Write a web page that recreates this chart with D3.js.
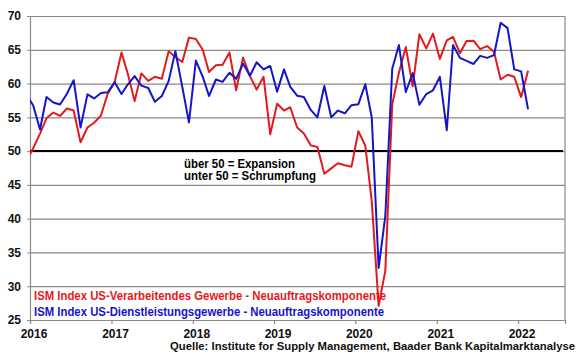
<!DOCTYPE html>
<html><head><meta charset="utf-8">
<script src="https://cdn.jsdelivr.net/npm/d3@7"></script>
<style>
body{margin:0;background:#fff}
svg{display:block}
text{font-family:"Liberation Sans",Arial,sans-serif;font-weight:bold}
</style>
</head><body>
<svg id="chart" width="580" height="359"></svg>
<script>
// first data month (Dec 2015, partly clipped at the left edge), monthly values
const firstMonth = "2015-12-15";
const manufacturing = [
 48.5,
 50.4,52.6,54.85,55.7,55.2,56.3,56.0,51.3,53.5,54.2,55.3,58.5,
 60.2,64.6,61.5,57.4,61.5,60.4,61.0,60.7,64.8,63.9,63.2,66.8,
 66.6,65.0,61.7,62.7,62.8,64.6,59.0,63.85,61.1,59.1,61.0,52.5,
 57.0,56.0,56.5,53.5,52.6,50.85,50.6,46.65,47.45,48.2,47.9,47.7,
 52.95,50.8,42.6,27.1,32.3,56.9,61.6,65.4,59.6,67.3,65.2,67.4,
 63.65,66.4,66.9,64.5,66.3,66.35,65.1,65.55,64.7,60.6,61.3,61.0,
 58.0,61.9
];
const services = [
 58.4,
 56.8,53.2,58.0,57.2,56.9,58.5,60.5,53.5,58.4,57.8,58.6,58.7,
 60.2,58.45,59.85,61.1,59.7,59.35,57.3,58.15,60.4,64.8,59.5,54.25,
 63.4,61.0,58.15,60.6,60.25,61.6,60.7,62.95,61.15,63.15,62.1,62.6,
 58.8,62.1,59.5,58.2,58.0,56.1,55.0,59.65,55.0,56.0,55.6,56.8,
 56.95,59.9,55.0,32.7,40.4,62.2,65.7,58.75,61.55,56.85,58.45,59.0,
 61.0,53.1,65.7,63.8,63.35,62.9,64.1,63.8,64.2,69.0,68.2,62.1,
 61.8,56.2
];
const yTicks = [25,30,35,40,45,50,55,60,65,70];
const xYears = [2016,2017,2018,2019,2020,2021,2022];
const seriesNames = [
 "ISM Index US-Verarbeitendes Gewerbe - Neuauftragskomponente",
 "ISM Index US-Dienstleistungsgewerbe - Neuauftragskomponente"
];
const noteLines = ["über 50 = Expansion","unter 50 = Schrumpfung"];
const sourceText = "Quelle: Institute for Supply Management, Baader Bank Kapitalmarktanalyse";

const RED = "#e31a1c", BLUE = "#1515c8", GRID = "#8a8a8a";
const L = 30, R = 565, T = 16, B = 320;

const svg = d3.select("#chart");
const x = d3.scaleTime().domain([new Date(2016,0,1), new Date(2022,6,31)]).range([L,R]);
const y = d3.scaleLinear().domain([25,70]).range([B,T]);

const start = new Date(firstMonth + "T00:00:00");
const dates = manufacturing.map((_,i)=> new Date(start.getFullYear(), start.getMonth()+i, 15));

// gridlines
const grid = svg.append("g").attr("transform",`translate(${L},0)`)
  .call(d3.axisLeft(y).tickValues(yTicks).tickSize(-(R-L)).tickFormat(""));
grid.select(".domain").remove();
grid.selectAll("line").attr("stroke",GRID).attr("stroke-width",1.2);

// right border
svg.append("line").attr("x1",R).attr("x2",R).attr("y1",T).attr("y2",B)
  .attr("stroke",GRID).attr("stroke-width",1.2);

// y axis
const ya = svg.append("g").attr("transform",`translate(${L},0)`)
  .call(d3.axisLeft(y).tickValues(yTicks).tickSize(3).tickPadding(6));
ya.select(".domain").attr("stroke",GRID).attr("stroke-width",1.2);
ya.selectAll("line").attr("stroke",GRID);
ya.selectAll("text").attr("font-size","12px").attr("fill","#111");

// x axis
const xa = svg.append("g").attr("transform",`translate(0,${B})`)
  .call(d3.axisBottom(x).tickValues(xYears.map(v=>new Date(v,0,1)))
    .tickSize(4).tickPadding(5).tickFormat(d3.timeFormat("%Y")));
xa.select(".domain").attr("stroke",GRID).attr("stroke-width",1.2);
xa.selectAll("line").attr("stroke",GRID).attr("stroke-width",1.2);
xa.selectAll("text").attr("font-size","12px").attr("fill","#111").attr("dx","3.5");

// 50 line
svg.append("line").attr("x1",L).attr("x2",R-2).attr("y1",y(50)).attr("y2",y(50))
  .attr("stroke","#000").attr("stroke-width",2);

// clip
svg.append("clipPath").attr("id","plot").append("rect")
  .attr("x",L).attr("y",T-5).attr("width",R-L).attr("height",B-T+10);

const line = d3.line().x((d,i)=>x(dates[i])).y(d=>y(d));
const lines = svg.append("g").attr("clip-path","url(#plot)");
lines.append("path").datum(manufacturing).attr("d",line)
  .attr("fill","none").attr("stroke",RED).attr("stroke-width",2).attr("stroke-linejoin","round");
lines.append("path").datum(services).attr("d",line)
  .attr("fill","none").attr("stroke",BLUE).attr("stroke-width",2).attr("stroke-linejoin","round");

// notes
svg.append("text").attr("x",184).attr("y",167.5).attr("font-size","12px").attr("fill","#000")
  .attr("textLength",111).attr("lengthAdjust","spacingAndGlyphs").text(noteLines[0]);
svg.append("text").attr("x",184).attr("y",180).attr("font-size","12px").attr("fill","#000")
  .attr("textLength",132).attr("lengthAdjust","spacingAndGlyphs").text(noteLines[1]);

// legend
svg.append("text").attr("x",34).attr("y",300).attr("font-size","12px").attr("fill",RED)
  .attr("textLength",352).attr("lengthAdjust","spacingAndGlyphs").text(seriesNames[0]);
svg.append("text").attr("x",34).attr("y",315.5).attr("font-size","12px").attr("fill",BLUE)
  .attr("textLength",350).attr("lengthAdjust","spacingAndGlyphs").text(seriesNames[1]);

// source
svg.append("text").attr("x",575).attr("y",350).attr("text-anchor","end")
  .attr("font-size","11.3px").attr("fill","#111").text(sourceText);
</script>
</body></html>
